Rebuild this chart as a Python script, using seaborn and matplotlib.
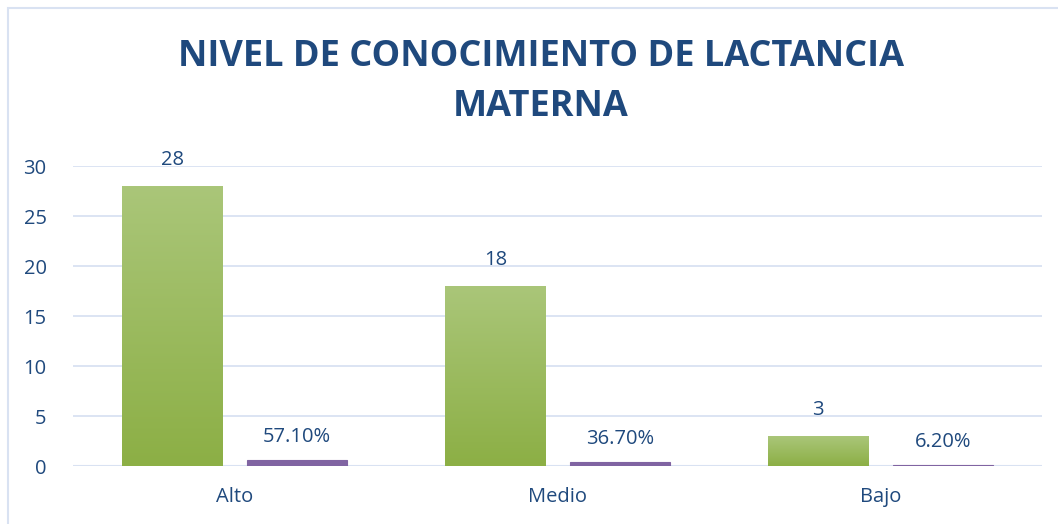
import numpy as np
import pandas as pd
import matplotlib
matplotlib.use("Agg")
import matplotlib.pyplot as plt
from matplotlib.patches import Rectangle
from matplotlib.colors import LinearSegmentedColormap
import seaborn as sns

# === DATA ===
categories = ["Alto", "Medio", "Bajo"]
frecuencia = [28, 18, 3]
porcentaje = [0.571, 0.367, 0.062]
etiquetas_pct = ["57.10%", "36.70%", "6.20%"]

sns.set_style("white")
plt.rcParams["font.family"] = ["Open Sans", "DejaVu Sans"]

TEXT = "#1F497D"
GREEN = "#9BBB59"
PURPLE = "#8064A2"
GRID = "#D9E2F2"

df = pd.DataFrame({
    "Nivel": categories * 2,
    "Valor": frecuencia + porcentaje,
    "Serie": ["n"] * 3 + ["%"] * 3,
})

fig = plt.figure(figsize=(10.58, 5.24), dpi=100)
ax = fig.add_axes([73 / 1058, 1 - 466 / 524, 969 / 1058, 300 / 524])

sns.barplot(data=df, x="Nivel", y="Valor", hue="Serie", order=categories,
            hue_order=["n", "%"], palette=[GREEN, PURPLE], width=0.77, gap=0.195,
            saturation=1, legend=False, linewidth=0, ax=ax)

# gradient fill on green bars (Excel style)
cmap = LinearSegmentedColormap.from_list("g", ["#8CAF45", "#AAC679"])
grad = np.linspace(0, 1, 256).reshape(-1, 1)
bars = ax.patches
for p in bars[:3]:
    x0, w, h = p.get_x(), p.get_width(), p.get_height()
    im = ax.imshow(grad, cmap=cmap, aspect="auto", origin="lower",
                   extent=[x0, x0 + w, 0, h], zorder=p.get_zorder())
    im.set_clip_path(p)
    p.set_facecolor("none")
for p in bars[3:6]:
    p.set_edgecolor(PURPLE)
    p.set_linewidth(0.8)
    p.set_zorder(3)

ax.set_xlim(-0.5, 2.5)
ax.set_ylim(0, 30)
ax.set_yticks(range(0, 31, 5))
ax.yaxis.grid(True, color=GRID, linewidth=1.3)
ax.set_axisbelow(True)
for s in ax.spines.values():
    s.set_visible(False)
ax.axhline(0, color=GRID, linewidth=1.5, zorder=0)
ax.set_xlabel("")
ax.set_ylabel("")
ax.tick_params(axis="both", length=0, labelsize=14.5, colors=TEXT)
ax.tick_params(axis="x", pad=15)
ax.tick_params(axis="y", pad=19)

# data labels
for p, val in zip(bars[:3], frecuencia):
    ax.annotate(str(val), (p.get_x() + p.get_width() / 2, p.get_height()),
                xytext=(0, 19), textcoords="offset points", ha="center", va="center",
                fontsize=14.5, color=TEXT)
for p, lab in zip(bars[3:6], etiquetas_pct):
    ax.annotate(lab, (p.get_x() + p.get_width() / 2, p.get_height()),
                xytext=(0, 17), textcoords="offset points", ha="center", va="center",
                fontsize=14.5, color=TEXT)

fig.text(0.511, 1 - 57 / 524, "NIVEL DE CONOCIMIENTO DE LACTANCIA", ha="center",
         va="center", fontsize=26, fontweight="bold", color=TEXT)
fig.text(0.511, 1 - 107 / 524, "MATERNA", ha="center", va="center",
         fontsize=26, fontweight="bold", color=TEXT)

# chart border
fig.patches.append(Rectangle((8 / 1058, -0.01), 1.02, 1 - 8 / 524 + 0.01,
                             transform=fig.transFigure, fill=False,
                             edgecolor=GRID, linewidth=1.5))

fig.savefig("out.png", dpi=100)
